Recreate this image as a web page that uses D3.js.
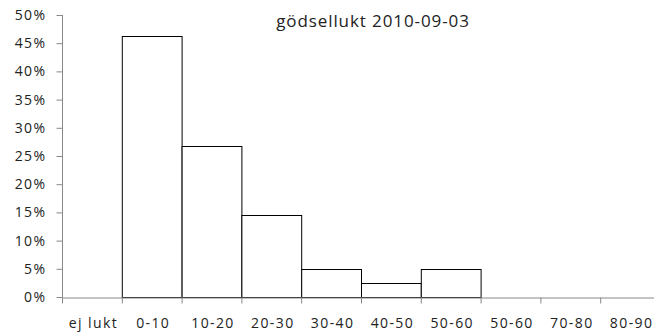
<!DOCTYPE html>
<html><head><meta charset="utf-8">
<script src="https://cdn.jsdelivr.net/npm/d3@7"></script>
<style>body{margin:0;background:#fff}svg{display:block}</style>
</head><body>
<svg id="c" width="654" height="334"></svg>
<script>
const categories = ["ej lukt","0-10","10-20","20-30","30-40","40-50","50-60","50-60 ","70-80","80-90"];
const values = [0, 0.463, 0.268, 0.146, 0.0488, 0.0244, 0.0488, 0, 0, 0];
const yTicks = [0,0.05,0.1,0.15,0.2,0.25,0.3,0.35,0.4,0.45,0.5];
const title = "gödsellukt 2010-09-03";

const svg = d3.select("#c");
const font = "'Open Sans', 'DejaVu Sans', sans-serif";
const x = d3.scaleBand().domain(categories).range([62, 660]).padding(0);
const y = d3.scaleLinear().domain([0,0.5]).range([297,15]);

svg.selectAll("rect.bar").data(categories.map((c,i)=>({c,v:values[i]})).filter(d=>d.v>0))
  .join("rect").attr("class","bar")
  .attr("x",d=>x(d.c)+0.5).attr("y",d=>Math.round(y(d.v))+0.5)
  .attr("width",x.bandwidth()).attr("height",d=>y(0)-Math.round(y(d.v)))
  .attr("fill","#fff").attr("stroke","#000").attr("stroke-width",1);

const ya = svg.append("g").attr("transform","translate(62.5,0)")
  .call(d3.axisLeft(y).tickValues(yTicks).tickFormat(d3.format(".0%")).tickSize(6).tickPadding(10));
ya.select(".domain").attr("stroke","#888").attr("d","M0,15V297.5");
ya.selectAll(".tick line").attr("stroke","#888");
ya.selectAll(".tick text").attr("font-family",font).attr("font-size",14).attr("letter-spacing","1.4px").attr("fill","#222");

const xa = svg.append("g").attr("transform","translate(0,297.5)")
  .call(d3.axisBottom(x).tickSize(0).tickPadding(19));
xa.select(".domain").attr("stroke","#888");
xa.selectAll(".tick text").attr("font-family",font).attr("font-size",14).attr("letter-spacing","1.4px")
  .attr("fill","#222").attr("dx","1.5").attr("dy","0.72em");
xa.selectAll(".tick text").attr("y",20).attr("dy","0.72em");
xa.selectAll("line.xt").data(categories).join("line").attr("class","xt")
  .attr("x1",d=>x(d)+0.5).attr("x2",d=>x(d)+0.5).attr("y1",0).attr("y2",6).attr("stroke","#888");

svg.append("text").attr("x",373).attr("y",27).attr("text-anchor","middle")
  .attr("font-family",font).attr("font-size",17).attr("letter-spacing","0.9px").attr("fill","#222").text(title);
</script>
</body></html>
